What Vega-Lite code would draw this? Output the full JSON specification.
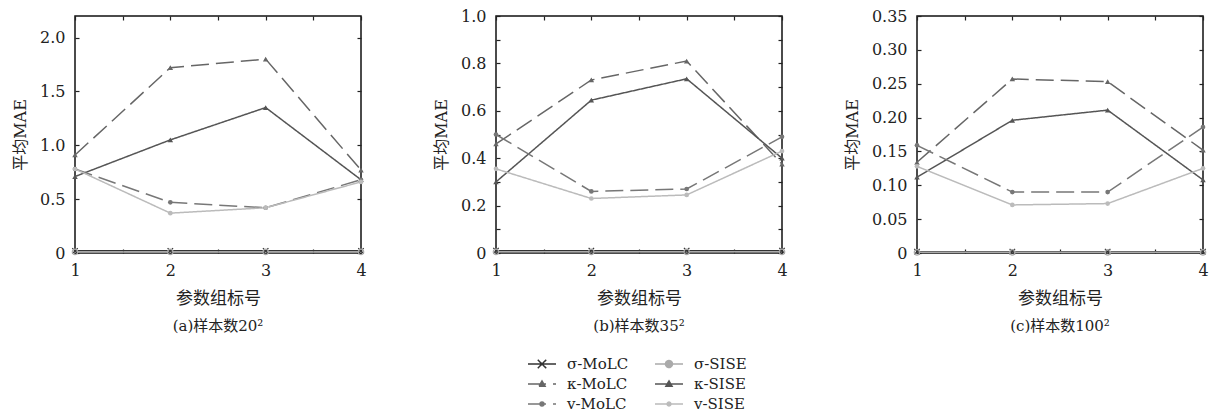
{
  "$schema": "https://vega.github.io/schema/vega-lite/v6.json",
  "background": "white",
  "padding": {"left": 11, "top": 7, "right": 5, "bottom": 5},
  "datasets": {
    "a": [
      {"x": 1, "series": "σ-MoLC", "y": 0.02}, {"x": 2, "series": "σ-MoLC", "y": 0.02}, {"x": 3, "series": "σ-MoLC", "y": 0.02}, {"x": 4, "series": "σ-MoLC", "y": 0.02},
      {"x": 1, "series": "σ-SISE", "y": 0.01}, {"x": 2, "series": "σ-SISE", "y": 0.01}, {"x": 3, "series": "σ-SISE", "y": 0.01}, {"x": 4, "series": "σ-SISE", "y": 0.01},
      {"x": 1, "series": "κ-MoLC", "y": 0.91}, {"x": 2, "series": "κ-MoLC", "y": 1.72}, {"x": 3, "series": "κ-MoLC", "y": 1.8}, {"x": 4, "series": "κ-MoLC", "y": 0.77},
      {"x": 1, "series": "κ-SISE", "y": 0.71}, {"x": 2, "series": "κ-SISE", "y": 1.05}, {"x": 3, "series": "κ-SISE", "y": 1.35}, {"x": 4, "series": "κ-SISE", "y": 0.68},
      {"x": 1, "series": "v-MoLC", "y": 0.78}, {"x": 2, "series": "v-MoLC", "y": 0.47}, {"x": 3, "series": "v-MoLC", "y": 0.42}, {"x": 4, "series": "v-MoLC", "y": 0.68},
      {"x": 1, "series": "v-SISE", "y": 0.78}, {"x": 2, "series": "v-SISE", "y": 0.37}, {"x": 3, "series": "v-SISE", "y": 0.42}, {"x": 4, "series": "v-SISE", "y": 0.66}
    ],
    "b": [
      {"x": 1, "series": "σ-MoLC", "y": 0.01}, {"x": 2, "series": "σ-MoLC", "y": 0.01}, {"x": 3, "series": "σ-MoLC", "y": 0.01}, {"x": 4, "series": "σ-MoLC", "y": 0.01},
      {"x": 1, "series": "σ-SISE", "y": 0.005}, {"x": 2, "series": "σ-SISE", "y": 0.005}, {"x": 3, "series": "σ-SISE", "y": 0.005}, {"x": 4, "series": "σ-SISE", "y": 0.005},
      {"x": 1, "series": "κ-MoLC", "y": 0.46}, {"x": 2, "series": "κ-MoLC", "y": 0.73}, {"x": 3, "series": "κ-MoLC", "y": 0.81}, {"x": 4, "series": "κ-MoLC", "y": 0.375},
      {"x": 1, "series": "κ-SISE", "y": 0.3}, {"x": 2, "series": "κ-SISE", "y": 0.645}, {"x": 3, "series": "κ-SISE", "y": 0.735}, {"x": 4, "series": "κ-SISE", "y": 0.4},
      {"x": 1, "series": "v-MoLC", "y": 0.5}, {"x": 2, "series": "v-MoLC", "y": 0.26}, {"x": 3, "series": "v-MoLC", "y": 0.27}, {"x": 4, "series": "v-MoLC", "y": 0.49},
      {"x": 1, "series": "v-SISE", "y": 0.355}, {"x": 2, "series": "v-SISE", "y": 0.23}, {"x": 3, "series": "v-SISE", "y": 0.245}, {"x": 4, "series": "v-SISE", "y": 0.43}
    ],
    "c": [
      {"x": 1, "series": "σ-MoLC", "y": 0.002}, {"x": 2, "series": "σ-MoLC", "y": 0.002}, {"x": 3, "series": "σ-MoLC", "y": 0.002}, {"x": 4, "series": "σ-MoLC", "y": 0.002},
      {"x": 1, "series": "σ-SISE", "y": 0.001}, {"x": 2, "series": "σ-SISE", "y": 0.001}, {"x": 3, "series": "σ-SISE", "y": 0.001}, {"x": 4, "series": "σ-SISE", "y": 0.001},
      {"x": 1, "series": "κ-MoLC", "y": 0.134}, {"x": 2, "series": "κ-MoLC", "y": 0.257}, {"x": 3, "series": "κ-MoLC", "y": 0.253}, {"x": 4, "series": "κ-MoLC", "y": 0.152},
      {"x": 1, "series": "κ-SISE", "y": 0.112}, {"x": 2, "series": "κ-SISE", "y": 0.196}, {"x": 3, "series": "κ-SISE", "y": 0.211}, {"x": 4, "series": "κ-SISE", "y": 0.108},
      {"x": 1, "series": "v-MoLC", "y": 0.159}, {"x": 2, "series": "v-MoLC", "y": 0.09}, {"x": 3, "series": "v-MoLC", "y": 0.09}, {"x": 4, "series": "v-MoLC", "y": 0.186},
      {"x": 1, "series": "v-SISE", "y": 0.128}, {"x": 2, "series": "v-SISE", "y": 0.071}, {"x": 3, "series": "v-SISE", "y": 0.073}, {"x": 4, "series": "v-SISE", "y": 0.125}
    ]
  },
  "hconcat": [
    {
      "width": 286, "height": 237,
      "data": {"name": "a"},
      "title": {"text": "(a)样本数20²", "orient": "bottom", "offset": 13},
      "resolve": {"axis": {"x": "independent", "y": "independent"}},
      "layer": [
        {
          "mark": {"type": "point", "filled": true, "size": 1, "strokeWidth": 1.5, "opacity": 1},
          "encoding": {
            "x": {"field": "x", "type": "quantitative", "scale": {"domain": [1, 4], "nice": false, "zero": false},
                  "axis": {"orient": "bottom", "values": [1, 1.5, 2, 2.5, 3, 3.5, 4], "labelExpr": "datum.value % 1 == 0 ? format(datum.value, 'd') : ''", "title": "参数组标号"}},
            "y": {"field": "y", "type": "quantitative", "scale": {"domain": [0, 2.2], "nice": false},
                  "axis": {"orient": "left", "values": [0, 0.5, 1, 1.5, 2], "labelExpr": "datum.value == 0 ? '0' : format(datum.value, '.1f')", "title": "平均MAE"}},
            "color": {"field": "series", "type": "nominal",
                      "scale": {"domain": ["σ-MoLC", "σ-SISE", "κ-MoLC", "κ-SISE", "v-MoLC", "v-SISE"], "range": ["#333333", "#aaaaaa", "#666666", "#555555", "#777777", "#bbbbbb"]},
                      "legend": {"orient": "none", "legendX": 452, "legendY": 338, "title": null, "columns": 2, "direction": "horizontal", "columnPadding": 25, "rowPadding": 0, "clipHeight": 20,
                                 "symbolSize": 784, "symbolStrokeWidth": 1.5, "labelOffset": 10, "padding": 0}},
            "stroke": {"field": "series", "type": "nominal",
                       "scale": {"domain": ["σ-MoLC", "σ-SISE", "κ-MoLC", "κ-SISE", "v-MoLC", "v-SISE"], "range": ["#333333", "#aaaaaa", "#666666", "#555555", "#777777", "#bbbbbb"]}},
            "shape": {"field": "series", "type": "nominal",
                      "scale": {"domain": ["σ-MoLC", "σ-SISE", "κ-MoLC", "κ-SISE", "v-MoLC", "v-SISE"],
                                "range": ["M-1,0L1,0M-0.3,-0.3L0.3,0.3M-0.3,0.3L0.3,-0.3", "M-1,0L-0.25,0M0.25,0L1,0M0.25,0A0.25,0.25,0,1,1,-0.25,0A0.25,0.25,0,1,1,0.25,0Z", "M-1,0L1,0M-0.22,0.16L0.22,0.16L0,-0.22Z", "M-1,0L1,0M-0.22,0.16L0.22,0.16L0,-0.22Z", "M-1,0L1,0M0.14,0A0.14,0.14,0,1,1,-0.14,0A0.14,0.14,0,1,1,0.14,0Z", "M-1,0L1,0M0.14,0A0.14,0.14,0,1,1,-0.14,0A0.14,0.14,0,1,1,0.14,0Z"]}}
          }
        },
        {
          "mark": {"type": "line", "strokeWidth": 1.5},
          "encoding": {
            "x": {"field": "x", "type": "quantitative", "axis": null},
            "y": {"field": "y", "type": "quantitative", "axis": null},
            "color": {"field": "series", "type": "nominal"},
            "strokeDash": {"field": "series", "type": "nominal", "legend": null,
                           "scale": {"domain": ["σ-MoLC", "σ-SISE", "κ-MoLC", "κ-SISE", "v-MoLC", "v-SISE"], "range": [[1, 0], [1, 0], [18, 7], [1, 0], [18, 7], [1, 0]]}}
          }
        },
        {
          "transform": [{"filter": {"field": "series", "equal": "σ-MoLC"}}],
          "mark": {"type": "point", "shape": "M-1,-1L1,1M-1,1L1,-1", "filled": false, "size": 30, "strokeWidth": 1.2, "opacity": 1},
          "encoding": {
            "x": {"field": "x", "type": "quantitative", "axis": {"orient": "top", "values": [1, 1.5, 2, 2.5, 3, 3.5, 4], "labels": false, "title": null}},
            "y": {"field": "y", "type": "quantitative", "axis": {"orient": "right", "values": [0, 0.5, 1, 1.5, 2], "labels": false, "title": null}},
            "color": {"field": "series", "type": "nominal"}
          }
        },
        {
          "transform": [{"filter": {"field": "series", "equal": "σ-SISE"}}],
          "mark": {"type": "point", "shape": "circle", "filled": false, "size": 30, "strokeWidth": 1.2, "opacity": 1},
          "encoding": {
            "x": {"field": "x", "type": "quantitative", "axis": null},
            "y": {"field": "y", "type": "quantitative", "axis": null},
            "color": {"field": "series", "type": "nominal"}
          }
        },
        {
          "transform": [{"filter": {"field": "series", "oneOf": ["κ-MoLC", "κ-SISE"]}}],
          "mark": {"type": "point", "shape": "triangle-up", "filled": true, "size": 30, "opacity": 1},
          "encoding": {
            "x": {"field": "x", "type": "quantitative", "axis": null},
            "y": {"field": "y", "type": "quantitative", "axis": null},
            "color": {"field": "series", "type": "nominal"}
          }
        },
        {
          "transform": [{"filter": {"field": "series", "oneOf": ["v-MoLC", "v-SISE"]}}],
          "mark": {"type": "point", "shape": "circle", "filled": true, "size": 22, "opacity": 1},
          "encoding": {
            "x": {"field": "x", "type": "quantitative", "axis": null},
            "y": {"field": "y", "type": "quantitative", "axis": null},
            "color": {"field": "series", "type": "nominal"}
          }
        }
      ]
    },
    {
      "width": 286, "height": 237,
      "data": {"name": "b"},
      "title": {"text": "(b)样本数35²", "orient": "bottom", "offset": 13},
      "resolve": {"axis": {"x": "independent", "y": "independent"}},
      "layer": [
        {
          "mark": {"type": "line", "strokeWidth": 1.5},
          "encoding": {
            "x": {"field": "x", "type": "quantitative", "scale": {"domain": [1, 4], "nice": false, "zero": false},
                  "axis": {"orient": "bottom", "values": [1, 1.5, 2, 2.5, 3, 3.5, 4], "labelExpr": "datum.value % 1 == 0 ? format(datum.value, 'd') : ''", "title": "参数组标号"}},
            "y": {"field": "y", "type": "quantitative", "scale": {"domain": [0, 1], "nice": false},
                  "axis": {"orient": "left", "values": [0, 0.1, 0.2, 0.3, 0.4, 0.5, 0.6, 0.7, 0.8, 0.9, 1.0], "labelExpr": "datum.value == 0 ? '0' : (round(datum.value * 10) % 2 == 0 ? format(datum.value, '.1f') : '')", "title": "平均MAE"}},
            "color": {"field": "series", "type": "nominal"},
            "strokeDash": {"field": "series", "type": "nominal", "legend": null}
          }
        },
        {
          "transform": [{"filter": {"field": "series", "equal": "σ-MoLC"}}],
          "mark": {"type": "point", "shape": "M-1,-1L1,1M-1,1L1,-1", "filled": false, "size": 30, "strokeWidth": 1.2, "opacity": 1},
          "encoding": {
            "x": {"field": "x", "type": "quantitative", "axis": {"orient": "top", "values": [1, 1.5, 2, 2.5, 3, 3.5, 4], "labels": false, "title": null}},
            "y": {"field": "y", "type": "quantitative", "axis": {"orient": "right", "values": [0, 0.1, 0.2, 0.3, 0.4, 0.5, 0.6, 0.7, 0.8, 0.9, 1.0], "labels": false, "title": null}},
            "color": {"field": "series", "type": "nominal"}
          }
        },
        {
          "transform": [{"filter": {"field": "series", "equal": "σ-SISE"}}],
          "mark": {"type": "point", "shape": "circle", "filled": false, "size": 30, "strokeWidth": 1.2, "opacity": 1},
          "encoding": {
            "x": {"field": "x", "type": "quantitative", "axis": null},
            "y": {"field": "y", "type": "quantitative", "axis": null},
            "color": {"field": "series", "type": "nominal"}
          }
        },
        {
          "transform": [{"filter": {"field": "series", "oneOf": ["κ-MoLC", "κ-SISE"]}}],
          "mark": {"type": "point", "shape": "triangle-up", "filled": true, "size": 30, "opacity": 1},
          "encoding": {
            "x": {"field": "x", "type": "quantitative", "axis": null},
            "y": {"field": "y", "type": "quantitative", "axis": null},
            "color": {"field": "series", "type": "nominal"}
          }
        },
        {
          "transform": [{"filter": {"field": "series", "oneOf": ["v-MoLC", "v-SISE"]}}],
          "mark": {"type": "point", "shape": "circle", "filled": true, "size": 22, "opacity": 1},
          "encoding": {
            "x": {"field": "x", "type": "quantitative", "axis": null},
            "y": {"field": "y", "type": "quantitative", "axis": null},
            "color": {"field": "series", "type": "nominal"}
          }
        }
      ]
    },
    {
      "width": 286, "height": 237,
      "data": {"name": "c"},
      "title": {"text": "(c)样本数100²", "orient": "bottom", "offset": 13},
      "resolve": {"axis": {"x": "independent", "y": "independent"}},
      "layer": [
        {
          "mark": {"type": "line", "strokeWidth": 1.5},
          "encoding": {
            "x": {"field": "x", "type": "quantitative", "scale": {"domain": [1, 4], "nice": false, "zero": false},
                  "axis": {"orient": "bottom", "values": [1, 1.5, 2, 2.5, 3, 3.5, 4], "labelExpr": "datum.value % 1 == 0 ? format(datum.value, 'd') : ''", "title": "参数组标号"}},
            "y": {"field": "y", "type": "quantitative", "scale": {"domain": [0, 0.35], "nice": false},
                  "axis": {"orient": "left", "values": [0, 0.05, 0.1, 0.15, 0.2, 0.25, 0.3, 0.35], "labelExpr": "datum.value == 0 ? '0' : format(datum.value, '.2f')", "title": "平均MAE"}},
            "color": {"field": "series", "type": "nominal"},
            "strokeDash": {"field": "series", "type": "nominal", "legend": null}
          }
        },
        {
          "transform": [{"filter": {"field": "series", "equal": "σ-MoLC"}}],
          "mark": {"type": "point", "shape": "M-1,-1L1,1M-1,1L1,-1", "filled": false, "size": 30, "strokeWidth": 1.2, "opacity": 1},
          "encoding": {
            "x": {"field": "x", "type": "quantitative", "axis": {"orient": "top", "values": [1, 1.5, 2, 2.5, 3, 3.5, 4], "labels": false, "title": null}},
            "y": {"field": "y", "type": "quantitative", "axis": {"orient": "right", "values": [0, 0.05, 0.1, 0.15, 0.2, 0.25, 0.3, 0.35], "labels": false, "title": null}},
            "color": {"field": "series", "type": "nominal"}
          }
        },
        {
          "transform": [{"filter": {"field": "series", "equal": "σ-SISE"}}],
          "mark": {"type": "point", "shape": "circle", "filled": false, "size": 30, "strokeWidth": 1.2, "opacity": 1},
          "encoding": {
            "x": {"field": "x", "type": "quantitative", "axis": null},
            "y": {"field": "y", "type": "quantitative", "axis": null},
            "color": {"field": "series", "type": "nominal"}
          }
        },
        {
          "transform": [{"filter": {"field": "series", "oneOf": ["κ-MoLC", "κ-SISE"]}}],
          "mark": {"type": "point", "shape": "triangle-up", "filled": true, "size": 30, "opacity": 1},
          "encoding": {
            "x": {"field": "x", "type": "quantitative", "axis": null},
            "y": {"field": "y", "type": "quantitative", "axis": null},
            "color": {"field": "series", "type": "nominal"}
          }
        },
        {
          "transform": [{"filter": {"field": "series", "oneOf": ["v-MoLC", "v-SISE"]}}],
          "mark": {"type": "point", "shape": "circle", "filled": true, "size": 22, "opacity": 1},
          "encoding": {
            "x": {"field": "x", "type": "quantitative", "axis": null},
            "y": {"field": "y", "type": "quantitative", "axis": null},
            "color": {"field": "series", "type": "nominal"}
          }
        }
      ]
    }
  ],
  "spacing": 135,
  "bounds": "flush",
  "resolve": {"scale": {"y": "independent"}},
  "config": {
    "font": "DejaVu Serif, Noto Sans CJK SC",
    "view": {"stroke": "#111111", "strokeWidth": 1.5},
    "axis": {
      "grid": false, "domain": false, "ticks": true, "tickSize": -4, "tickWidth": 1.2, "tickColor": "#222222",
      "labelFont": "DejaVu Serif, Noto Sans CJK SC", "labelFontSize": 16, "labelColor": "#222222",
      "labelFlush": false, "labelOverlap": false,
      "titleFont": "DejaVu Serif, Noto Sans CJK SC", "titleFontSize": 16, "titleFontWeight": "normal", "titleColor": "#222222"
    },
    "axisX": {"titlePadding": 12, "titleFontSize": 17, "labelPadding": 13},
    "axisY": {"titlePadding": 11, "labelPadding": 14},
    "title": {"font": "DejaVu Serif, Noto Sans CJK SC", "fontSize": 15, "fontWeight": "normal", "color": "#222222"},
    "legend": {"labelFont": "DejaVu Serif, Noto Sans CJK SC", "labelFontSize": 15, "labelColor": "#222222"}
  }
}
